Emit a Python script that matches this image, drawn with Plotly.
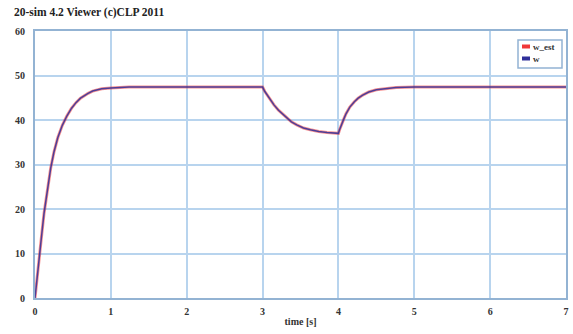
import plotly.graph_objects as go

# time [s]
t = [0, 0.02, 0.04, 0.066, 0.09, 0.119, 0.15, 0.18, 0.207, 0.25, 0.3, 0.36, 0.42, 0.48, 0.54, 0.6,
     0.65, 0.7, 0.76, 0.82, 0.88, 1.0, 1.1, 1.24, 1.5, 2.0, 2.5, 3.0, 3.03, 3.06, 3.1, 3.15, 3.21,
     3.27, 3.32, 3.38, 3.45, 3.54, 3.63, 3.74, 3.85, 4.0, 4.015, 4.035, 4.07, 4.1, 4.15, 4.21, 4.26,
     4.32, 4.4, 4.5, 4.62, 4.76, 4.88, 5.0, 5.5, 6.0, 7.0]
w = [0, 3.5, 7.0, 10.5, 14.5, 19.0, 22.8, 26.3, 29.2, 32.8, 36.0, 38.8, 40.9, 42.6, 43.9, 44.9,
     45.5, 46.0, 46.5, 46.8, 47.0, 47.2, 47.3, 47.4, 47.4, 47.4, 47.4, 47.4, 46.4, 45.6, 44.6, 43.4, 42.2,
     41.2, 40.4, 39.6, 38.9, 38.2, 37.8, 37.4, 37.2, 37.0, 37.8, 38.8, 40.2, 41.4, 42.9, 44.1, 44.9,
     45.6, 46.3, 46.8, 47.1, 47.3, 47.35, 47.4, 47.4, 47.4, 47.4]
w_est = list(w)

x_ticks = [0, 1, 2, 3, 4, 5, 6, 7]
y_ticks = [0, 10, 20, 30, 40, 50, 60]
series_names = ["w_est", "w"]

RED = "#f03838"
BLUE = "#30309a"
FONT = "Liberation Serif"
TXT = "#333333"

fig = go.Figure()
fig.add_trace(go.Scatter(x=t, y=w_est, name=series_names[0], mode="lines",
                         line=dict(color=RED, width=3),
                         opacity=0.55, showlegend=False, hoverinfo="skip"))
fig.add_trace(go.Scatter(x=t, y=w, name=series_names[1], mode="lines",
                         line=dict(color=BLUE, width=1.5),
                         opacity=0.85, showlegend=False))

axis_common = dict(
    showgrid=True, gridcolor="#b8d4ee", gridwidth=1.5,
    showline=True, linecolor="#93b3d3", linewidth=2, mirror=True,
    zeroline=False, ticks="", automargin=False,
    tickfont=dict(family=FONT, size=10, color=TXT, weight="bold"),
)
fig.update_xaxes(range=[0, 7], tickvals=x_ticks, ticklabelstandoff=3, **axis_common,
                 title=dict(text="time [s]", font=dict(family=FONT, size=10, color=TXT, weight="bold"),
                            standoff=2))
fig.update_yaxes(range=[0, 60], tickvals=y_ticks, ticklabelstandoff=6, **axis_common)

# legend box (paper coords of plot area)
def px(xp):
    return (xp - 35) / 531
def py(yp):
    return (298 - yp) / 267

shapes = [
    dict(type="rect", xref="paper", yref="paper", x0=px(518), x1=px(562), y0=py(68), y1=py(40),
         line=dict(color="#93b3d3", width=1.5), fillcolor="white", layer="above"),
    dict(type="line", xref="paper", yref="paper", x0=px(522), x1=px(530), y0=py(46.5), y1=py(46.5),
         line=dict(color=RED, width=4), layer="above"),
    dict(type="line", xref="paper", yref="paper", x0=px(522), x1=px(530), y0=py(58.5), y1=py(58.5),
         line=dict(color=BLUE, width=4), layer="above"),
]
annotations = [
    dict(text=series_names[0], xref="paper", yref="paper", x=px(531), y=py(47), xanchor="left",
         yanchor="middle", showarrow=False, font=dict(family=FONT, size=9, color=TXT, weight="bold")),
    dict(text=series_names[1], xref="paper", yref="paper", x=px(531), y=py(59), xanchor="left",
         yanchor="middle", showarrow=False, font=dict(family=FONT, size=9, color=TXT, weight="bold")),
    dict(text="20-sim 4.2 Viewer (c)CLP 2011", xref="paper", yref="paper", x=px(12), y=py(12),
         xanchor="left", yanchor="middle", showarrow=False,
         font=dict(family=FONT, size=11.5, color="#222222", weight="bold")),
]

fig.update_layout(
    width=573, height=334,
    margin=dict(l=35, r=7, t=31, b=36, autoexpand=False),
    paper_bgcolor="white", plot_bgcolor="white",
    font=dict(family=FONT, size=10, color=TXT),
    showlegend=False,
    shapes=shapes, annotations=annotations,
)

fig.write_html("out.html", config={"displayModeBar": False},
               post_script="document.body.style.margin='0';document.body.style.overflow='hidden';")
